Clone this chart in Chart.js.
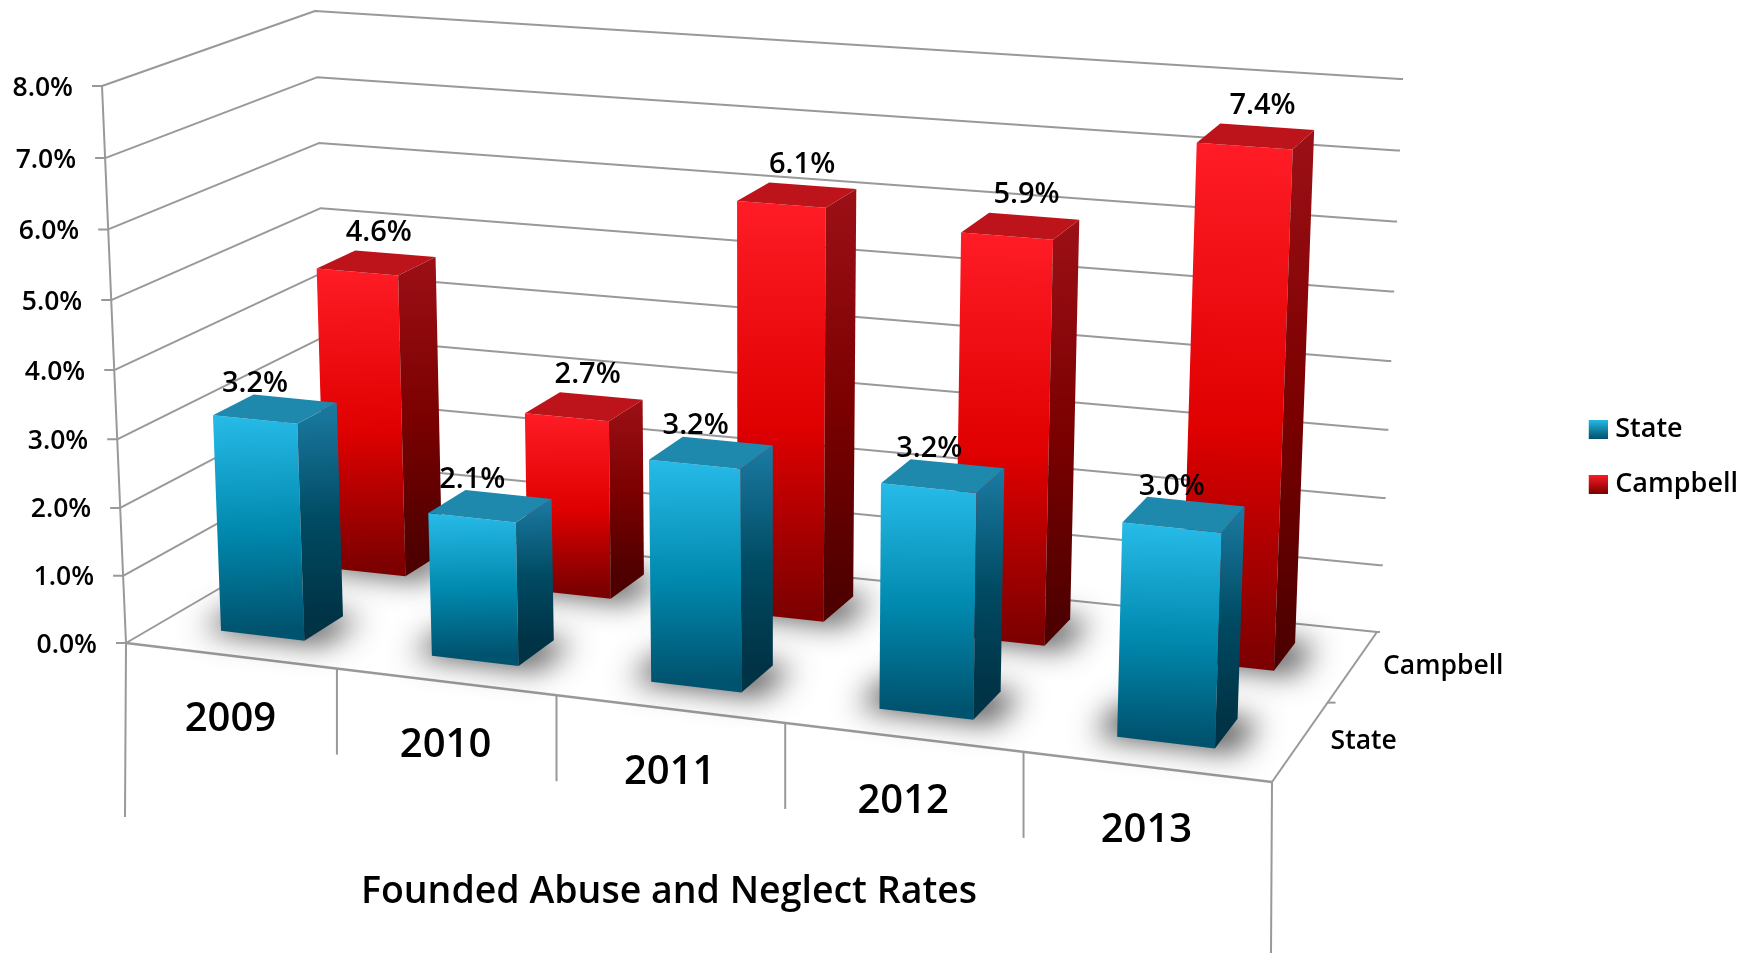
<!DOCTYPE html>
<html>
<head>
<meta charset="utf-8">
<title>Founded Abuse and Neglect Rates</title>
<script src="https://cdn.jsdelivr.net/npm/chart.js@4"></script>
<style>
  html, body { margin: 0; background: #fff; }
  canvas { display: block; }
</style>
</head>
<body>
<canvas id="chart" width="1743" height="953"></canvas>
<script>
const years = ['2009', '2010', '2011', '2012', '2013'];
const stateRates = [3.2, 2.1, 3.2, 3.2, 3.0];
const campbellRates = [4.6, 2.7, 6.1, 5.9, 7.4];
const seriesNames = ['State', 'Campbell'];
const axisTitle = 'Founded Abuse and Neglect Rates';

const FONT = '"Open Sans", sans-serif';
const GRID = '#999999';

// corners of the box in screen space: front-left, front-right, back-right, back-left
const floorQuad = [[126, 643], [1272, 782], [1377, 632], [330, 524]];
const roofQuad = [[102, 86], [1293, 182], [1400, 79], [315, 11]];

// depth slots of the two rows, label nudges in px
const rows = [
  { v0: 0.15, v1: 0.34, tick: 0.25, labelDx: -42, labelSlope: 20, labelDy: -15 },
  { v0: 0.665, v1: 0.865, tick: 0.75, labelDx: -18, labelSlope: 15, labelDy: -21 },
];

const palette = [
  {
    front: ['#27bbe8', '#0088ad', '#00536f'],
    side: ['#1b7ba3', '#004a62', '#003346'],
    top: '#1f88ad',
  },
  {
    front: ['#ff1c26', '#df0000', '#7d0000'],
    side: ['#9c1016', '#7a0000', '#4e0000'],
    top: '#bd141b',
  },
];

// square to quad perspective mapping
function makeQuad(p) {
  const [[x0, y0], [x1, y1], [x2, y2], [x3, y3]] = p;
  const sx = x0 - x1 + x2 - x3, sy = y0 - y1 + y2 - y3;
  const dx1 = x1 - x2, dx2 = x3 - x2, dy1 = y1 - y2, dy2 = y3 - y2;
  const det = dx1 * dy2 - dx2 * dy1;
  const g = (sx * dy2 - dx2 * sy) / det;
  const h = (dx1 * sy - sx * dy1) / det;
  const a = x1 - x0 + g * x1, b = x3 - x0 + h * x3;
  const d = y1 - y0 + g * y1, e = y3 - y0 + h * y3;
  return (u, v) => {
    const w = g * u + h * v + 1;
    return [(a * u + b * v + x0) / w, (d * u + e * v + y0) / w];
  };
}
const floorAt = makeQuad(floorQuad);
const roofAt = makeQuad(roofQuad);

// u along the years, v into the depth, z up the value axis (all 0..1)
function project(u, v, z) {
  const bow = u * (1 - u);
  const zz = z - 0.04 * z * (1 - z);
  // the roof needs more correction than the floor to keep bar edges upright
  const f = floorAt(u + 0.036 * bow, v), r = roofAt(u + 0.104 * bow, v);
  return [f[0] + (r[0] - f[0]) * zz, f[1] + (r[1] - f[1]) * zz];
}

function poly(ctx, pts) {
  ctx.beginPath();
  pts.forEach((p, i) => (i ? ctx.lineTo(p[0], p[1]) : ctx.moveTo(p[0], p[1])));
  ctx.closePath();
}

function line(ctx, pts) {
  ctx.beginPath();
  pts.forEach((p, i) => (i ? ctx.lineTo(p[0], p[1]) : ctx.moveTo(p[0], p[1])));
  ctx.stroke();
}

function faceGradient(ctx, from, to, stops) {
  const g = ctx.createLinearGradient(from[0], from[1], to[0], to[1]);
  g.addColorStop(0, stops[0]);
  g.addColorStop(0.55, stops[1]);
  g.addColorStop(1, stops[2]);
  return g;
}

// element geometry from the chart scales, turned into box coordinates
function barBox(chart, el, row) {
  const area = chart.chartArea;
  return {
    u0: (el.x - el.width / 2 - area.left) / area.width,
    u1: (el.x + el.width / 2 - area.left) / area.width,
    v0: row.v0,
    v1: row.v1,
    z: (el.base - el.y) / area.height,
  };
}

function drawBar(ctx, box, colors) {
  const { u0, u1, v0, v1, z } = box;
  const fl0 = project(u0, v0, 0), fr0 = project(u1, v0, 0);
  const br0 = project(u1, v1, 0), bl0 = project(u0, v1, 0);
  const fl1 = project(u0, v0, z), fr1 = project(u1, v0, z);
  const br1 = project(u1, v1, z), bl1 = project(u0, v1, z);

  // soft shadow on the floor, shape itself is kept off canvas
  ctx.save();
  ctx.shadowColor = 'rgba(0,0,0,0.7)';
  ctx.shadowBlur = 30;
  ctx.shadowOffsetX = 3000;
  ctx.translate(-3000, 0);
  ctx.fillStyle = '#000';
  poly(ctx, [
    project(u0 - 0.018, v0 - 0.004, 0), project(u1 + 0.018, v0 - 0.004, 0),
    project(u1 + 0.018, v1, 0), project(u0 - 0.018, v1, 0),
  ]);
  ctx.fill();
  ctx.restore();

  ctx.fillStyle = faceGradient(ctx, fl1, fl0, colors.front);
  poly(ctx, [fl1, fr1, fr0, fl0]);
  ctx.fill();

  ctx.fillStyle = faceGradient(ctx, br1, br0, colors.side);
  poly(ctx, [fr1, br1, br0, fr0]);
  ctx.fill();

  ctx.fillStyle = colors.top;
  poly(ctx, [fl1, fr1, br1, bl1]);
  ctx.fill();
}

// legend marker, drawn wider than its box so it sits close to the text
function swatch(colors) {
  const c = document.createElement('canvas');
  c.width = 31;
  c.height = 19;
  const x = c.getContext('2d');
  const g = x.createLinearGradient(0, 0, 0, 19);
  g.addColorStop(0, colors.front[0]);
  g.addColorStop(1, colors.front[2]);
  x.fillStyle = g;
  x.fillRect(12, 0, 19, 19);
  return c;
}

const box3d = {
  id: 'box3d',
  beforeDatasetsDraw(chart) {
    const ctx = chart.ctx;
    const yScale = chart.scales.y;
    const h = chart.chartArea.height;
    ctx.save();
    ctx.strokeStyle = GRID;
    ctx.lineWidth = 2;
    ctx.lineJoin = 'round';

    // walls and value ticks
    ctx.font = '600 26.5px ' + FONT;
    ctx.fillStyle = '#000';
    ctx.textAlign = 'right';
    ctx.textBaseline = 'middle';
    yScale.ticks.forEach(t => {
      const z = (yScale.bottom - yScale.getPixelForValue(t.value)) / h;
      const front = project(0, 0, z);
      const back = project(1, 1, z);
      line(ctx, [[front[0] - 10, front[1]], front, project(0, 1, z), back, [back[0] + 3, back[1]]]);
      ctx.fillText(t.label, front[0] - 29, front[1] + 2);
    });

    // left axis, floor edges
    line(ctx, [project(0, 0, 1), project(0, 0, 0), [125, 817]]);
    line(ctx, [project(1, 0, 0), project(1, 1, 0)]);
    line(ctx, [project(1, 0, 0), [1271, 953]]);
    ctx.lineWidth = 2.5;
    line(ctx, [project(0, 0, 0), project(1, 0, 0)]);
    ctx.lineWidth = 2;

    // year dividers and labels
    const n = years.length;
    ctx.textAlign = 'center';
    ctx.font = '600 40px ' + FONT;
    years.forEach((year, i) => {
      if (i > 0) {
        const p = project(i / n, 0, 0);
        line(ctx, [p, [p[0], p[1] + 86]]);
      }
      const c = project((i + 0.5) / n, 0, 0);
      ctx.fillText(year, c[0], c[1] + 64);
    });

    // depth ticks and row labels
    const mid = project(1, 0.5, 0);
    line(ctx, [mid, [mid[0] + 8, mid[1]]]);
    ctx.textAlign = 'left';
    ctx.font = '600 26.5px ' + FONT;
    seriesNames.forEach((name, i) => {
      const p = project(1, rows[i].tick, 0);
      ctx.fillText(name, p[0] + 30, p[1]);
    });

    ctx.textAlign = 'center';
    ctx.font = '600 37.5px ' + FONT;
    ctx.fillText(axisTitle, 669, 892);
    ctx.restore();
  },
  beforeDatasetDraw(chart, args) {
    const ctx = chart.ctx;
    args.meta.data.forEach(el => {
      drawBar(ctx, barBox(chart, el, rows[args.index]), palette[args.index]);
    });
    return false;
  },
  afterDatasetsDraw(chart) {
    const ctx = chart.ctx;
    ctx.save();
    ctx.font = '600 29px ' + FONT;
    ctx.fillStyle = '#000';
    ctx.textAlign = 'center';
    ctx.textBaseline = 'middle';
    chart.data.datasets.forEach((ds, d) => {
      chart.getDatasetMeta(d).data.forEach((el, i) => {
        const row = rows[d];
        const b = barBox(chart, el, row);
        const uc = (b.u0 + b.u1) / 2;
        const top = project(uc, row.v1, b.z);
        ctx.fillText(ds.data[i].toFixed(1) + '%', top[0] + row.labelDx + row.labelSlope * uc, top[1] + row.labelDy);
      });
    });
    ctx.restore();
  },
};

new Chart(document.getElementById('chart'), {
  type: 'bar',
  data: {
    labels: years,
    datasets: [
      { label: seriesNames[0], data: stateRates, backgroundColor: palette[0].front[1] },
      { label: seriesNames[1], data: campbellRates, backgroundColor: palette[1].front[1] },
    ],
  },
  options: {
    responsive: false,
    animation: false,
    grouped: false,
    barPercentage: 0.4,
    categoryPercentage: 1,
    layout: { padding: { bottom: 40, right: -5 } },
    scales: {
      x: { display: false },
      y: {
        display: false,
        min: 0,
        max: 8,
        ticks: { stepSize: 1, callback: v => v.toFixed(1) + '%' },
      },
    },
    plugins: {
      tooltip: { enabled: false },
      legend: {
        position: 'right',
        labels: {
          usePointStyle: true,
          pointStyleWidth: 19,
          boxWidth: 19,
          boxHeight: 19,
          padding: 28,
          color: '#000',
          font: { family: FONT, size: 27, weight: '600' },
          generateLabels: chart => Chart.defaults.plugins.legend.labels.generateLabels(chart)
            .map((item, i) => ({ ...item, pointStyle: swatch(palette[i]) })),
        },
      },
    },
  },
  plugins: [box3d],
});
</script>
</body>
</html>
